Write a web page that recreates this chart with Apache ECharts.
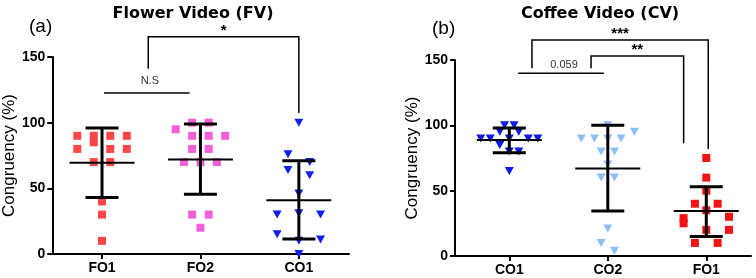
<!DOCTYPE html>
<html>
<head>
<meta charset="utf-8">
<script src="https://cdn.jsdelivr.net/npm/echarts@6/dist/echarts.min.js"></script>
<style>
  html, body { margin: 0; padding: 0; background: #fff; }
  #chart { width: 756px; height: 278px; }
</style>
</head>
<body>
<div id="chart"></div>
<script>
// panel (a) flower video
const fvCategories = ['FO1', 'FO2', 'CO1'];
const fvFO1 = [90, 90, 90, 90, 85, 80, 80, 80, 70, 70, 40, 30, 10];
const fvFO1Slot = [-1.5, -0.5, 0.5, 1.5, -0.5, -1.5, 0.5, 1.5, -0.5, 0.5, 0, 0, 0];
const fvFO2 = [100, 100, 95, 90, 90, 90, 80, 80, 70, 70, 70, 30, 30, 20];
const fvFO2Slot = [-0.5, 0.5, -1.5, -0.5, 0.5, 1.5, -0.5, 0.5, -1, 0, 1, -0.5, 0.5, 0];
const fvCO1 = [100, 76, 70, 64, 60, 46, 30, 31, 30, 15, 10, 11, 0];
const fvCO1Slot = [0, -0.5, 0.5, -0.5, 0.5, 0, -1, 0, 1, -1, 0, 1, 0];
const fvMean = [69.5, 72, 41];
const fvSdLow = [43, 45.5, 11.5];
const fvSdHigh = [96, 99, 71];

// panel (b) coffee video
const cvCategories = ['CO1', 'CO2', 'FO1'];
const cvCO1 = [100, 100, 95, 95, 90, 90, 90, 90, 90, 85, 80, 80, 65];
const cvCO1Slot = [-0.5, 0.5, -1, 1, -3, -2, 0, 2, 3, -1, 0, 1, 0];
const cvCO2 = [100, 95, 90, 90, 90, 90, 80, 80, 70, 60, 60, 21, 10, 4];
const cvCO2Slot = [0, 2, -2, -1, 0, 1, -0.5, 0.5, 0, -0.5, 0.5, 0, -0.5, 0.5];
const cvFO1 = [75, 60, 50, 40, 40, 35, 29, 25, 30, 20, 20, 10, 10];
const cvFO1Slot = [0, 0, 0, -1, 1, 0, -2, -2, 2, 0, 2, -1, 1];
const cvMean = [88.8, 67, 34.4];
const cvSdLow = [79, 34.5, 15];
const cvSdHigh = [98, 100, 53];

const yTicks = [0, 50, 100, 150];

// significance brackets: [xLeft, xRight, yLeftEnd, yTop, yRightEnd], label
const fvBrackets = [[1.02, 1.89, 122.6, 122.6, 122.6], [1.47, 3.0, 141, 165.5, 107.4]];
const fvBracketText = ['N.S', '*'];
const cvBrackets = [[1.09, 1.96, 139.8, 139.8, 139.8], [1.23, 3.02, 143.6, 165.3, 81.9], [1.83, 2.77, 143.6, 153, 86.2]];
const cvBracketText = ['0.059', '***', '**'];

let chart = echarts.init(document.getElementById('chart'));

function points(values, slots, pos, spacing) {
  return values.map((v, i) => ({ value: [pos, v], symbolOffset: [slots[i] * spacing, 0] }));
}

function errorBars(means, lows, highs) {
  return means.map((m, i) => [i + 1, m, lows[i], highs[i]]);
}

function renderErrorBar(params, api) {
  let x = api.coord([api.value(0), api.value(1)])[0];
  let ym = api.coord([api.value(0), api.value(1)])[1];
  let yl = api.coord([api.value(0), api.value(2)])[1];
  let yh = api.coord([api.value(0), api.value(3)])[1];
  let blk = { stroke: '#000', lineWidth: 3 };
  return {
    type: 'group',
    children: [
      { type: 'line', shape: { x1: x - 32.5, y1: ym, x2: x + 32.5, y2: ym }, style: { stroke: '#000', lineWidth: 2 } },
      { type: 'line', shape: { x1: x, y1: yl, x2: x, y2: yh }, style: blk },
      { type: 'line', shape: { x1: x - 16.5, y1: yl, x2: x + 16.5, y2: yl }, style: blk },
      { type: 'line', shape: { x1: x - 16.5, y1: yh, x2: x + 16.5, y2: yh }, style: blk },
    ],
  };
}

function bracketRenderer(brackets, texts) {
  return function (params, api) {
    let b = brackets[params.dataIndex];
    let p1 = api.coord([b[0], b[2]]);
    let p2 = api.coord([b[0], b[3]]);
    let p3 = api.coord([b[1], b[3]]);
    let p4 = api.coord([b[1], b[4]]);
    let txt = texts[params.dataIndex];
    let star = txt.indexOf('*') >= 0;
    return {
      type: 'group',
      children: [
        { type: 'polyline', shape: { points: [p1, p2, p3, p4] }, style: { stroke: '#000', lineWidth: 1.5, fill: null } },
        {
          type: 'text',
          x: (p2[0] + p3[0]) / 2 + (star ? 0 : 3),
          y: p2[1] - (star ? 6 : (txt === 'N.S' ? 12 : 8)),
          style: {
            text: txt,
            fill: star ? '#000' : '#333',
            font: star ? 'bold 15px "Liberation Sans", Arial' : '11px "Liberation Sans", Arial',
            align: 'center',
            verticalAlign: 'middle',
          },
        },
      ],
    };
  };
}

function xAxisFor(gridIndex, min, max, cats) {
  return {
    type: 'value',
    gridIndex: gridIndex,
    min: min,
    max: max,
    splitLine: { show: false },
    axisLine: { lineStyle: { color: '#000', width: 2 } },
    axisTick: { customValues: [1, 2, 3], length: 5, lineStyle: { color: '#000', width: 2 } },
    axisLabel: {
      customValues: [1, 2, 3],
      formatter: (v) => cats[Math.round(v) - 1],
      color: '#000',
      fontWeight: 'bold',
      fontSize: 14,
      fontFamily: '"Liberation Sans", Arial',
      margin: 7,
    },
  };
}

function yAxisFor(gridIndex) {
  return {
    type: 'value',
    gridIndex: gridIndex,
    min: 0,
    max: 150,
    interval: 50,
    name: 'Congruency (%)',
    nameLocation: 'middle',
    nameGap: 34,
    nameTextStyle: { color: '#000', fontSize: 17, fontFamily: '"Liberation Sans", Arial' },
    splitLine: { show: false },
    axisLine: { show: true, lineStyle: { color: '#000', width: 2 } },
    axisTick: { show: true, length: 5, lineStyle: { color: '#000', width: 2 } },
    axisLabel: {
      color: '#000',
      fontWeight: 'bold',
      fontSize: 14,
      fontFamily: '"Liberation Sans", Arial',
      margin: 7,
      customValues: yTicks,
    },
  };
}

function scatter(name, data, xi, symbol, color) {
  let s = {
    name: name,
    type: 'scatter',
    xAxisIndex: xi,
    yAxisIndex: xi,
    data: data,
    symbol: symbol === 'tri' ? 'triangle' : 'rect',
    symbolSize: symbol === 'tri' ? [9, 8] : 8,
    itemStyle: { color: color, opacity: 1 },
    clip: false,
    z: 2,
  };
  if (symbol === 'tri') s.symbolRotate = 180;
  return s;
}

let titleFont = { fontSize: 16, fontWeight: 'bold', color: '#000', fontFamily: '"DejaVu Sans", sans-serif' };
let panelFont = { fontSize: 19, fontWeight: 'normal', color: '#000', fontFamily: '"Liberation Sans", Arial' };

let option = {
  animation: false,
  title: [
    { text: 'Flower Video (FV)', left: 188, top: 1, textAlign: 'center', textStyle: titleFont },
    { text: '(a)', left: 24, top: 12, textStyle: panelFont },
    { text: 'Coffee Video (CV)', left: 595, top: 1, textAlign: 'center', textStyle: titleFont },
    { text: '(b)', left: 427, top: 14, textStyle: panelFont },
  ],
  grid: [
    { left: 52, top: 57, width: 297, height: 197 },
    { left: 455, top: 60, width: 296, height: 196 },
  ],
  xAxis: [
    xAxisFor(0, 0.4944, 3.5096, fvCategories),
    xAxisFor(1, 0.4487, 3.454, cvCategories),
  ],
  yAxis: [yAxisFor(0), yAxisFor(1)],
  series: [
    scatter('FO1', points(fvFO1, fvFO1Slot, 1, 16.5), 0, 'rect', '#ff4646'),
    scatter('FO2', points(fvFO2, fvFO2Slot, 2, 16.5), 0, 'rect', '#f35fd8'),
    scatter('CO1', points(fvCO1, fvCO1Slot, 3, 21.7), 0, 'tri', '#1020ec'),
    scatter('CO1', points(cvCO1, cvCO1Slot, 1, 9.5), 1, 'tri', '#0a1ae8'),
    scatter('CO2', points(cvCO2, cvCO2Slot, 2, 13.3), 1, 'tri', '#8dbef6'),
    scatter('FO1', points(cvFO1, cvFO1Slot, 3, 11.35), 1, 'rect', '#f21414'),
    {
      type: 'custom', xAxisIndex: 0, yAxisIndex: 0, z: 5, clip: false,
      renderItem: renderErrorBar,
      data: errorBars(fvMean, fvSdLow, fvSdHigh),
    },
    {
      type: 'custom', xAxisIndex: 1, yAxisIndex: 1, z: 5, clip: false,
      renderItem: renderErrorBar,
      data: errorBars(cvMean, cvSdLow, cvSdHigh),
    },
    {
      type: 'custom', xAxisIndex: 0, yAxisIndex: 0, z: 6, clip: false,
      renderItem: bracketRenderer(fvBrackets, fvBracketText),
      data: fvBrackets.map((b) => [b[0], b[3]]),
    },
    {
      type: 'custom', xAxisIndex: 1, yAxisIndex: 1, z: 6, clip: false,
      renderItem: bracketRenderer(cvBrackets, cvBracketText),
      data: cvBrackets.map((b) => [b[0], b[3]]),
    },
  ],
};
chart.setOption(option);
</script>
</body>
</html>
